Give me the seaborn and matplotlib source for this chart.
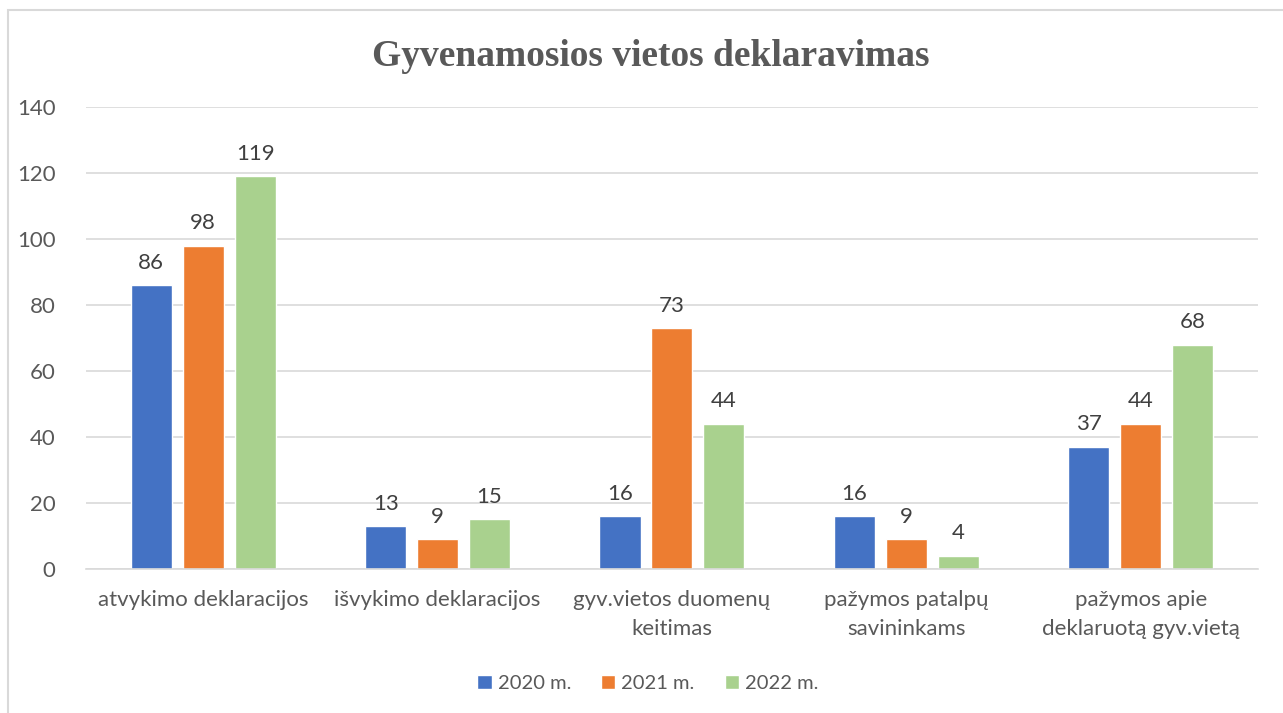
import matplotlib
matplotlib.use("Agg")
import matplotlib.pyplot as plt
import seaborn as sns
import pandas as pd
from matplotlib.patches import Rectangle

# chart data
categories = [
    "atvykimo deklaracijos",
    "išvykimo deklaracijos",
    "gyv.vietos duomenų\nkeitimas",
    "pažymos patalpų\nsavininkams",
    "pažymos apie\ndeklaruotą gyv.vietą",
]
years = ["2020 m.", "2021 m.", "2022 m."]
values_2020 = [86, 13, 16, 16, 37]
values_2021 = [98, 9, 73, 9, 44]
values_2022 = [119, 15, 44, 4, 68]
colors = ["#4472C4", "#ED7D31", "#A9D18E"]
title = "Gyvenamosios vietos deklaravimas"

df = pd.DataFrame({
    "category": categories * 3,
    "year": [y for y in years for _ in categories],
    "value": values_2020 + values_2021 + values_2022,
})

sns.set_theme(style="white")
plt.rcParams["font.family"] = ["Lato", "DejaVu Sans"]

fig = plt.figure(figsize=(12.83, 7.13), dpi=100)
ax = fig.add_axes([0.067, 0.202, 0.9135, 0.648])

sns.barplot(data=df, x="category", y="value", hue="year", palette=colors,
            width=0.665, gap=0.21, saturation=1, ax=ax, legend=True)

for container in ax.containers:
    ax.bar_label(container, padding=9, fontsize=16, color="#404040")

ax.set_ylim(0, 140)
ax.set_yticks(range(0, 141, 20))
ax.yaxis.grid(True, color="#D9D9D9", linewidth=1.2)
ax.set_axisbelow(True)
for side in ["top", "right", "left"]:
    ax.spines[side].set_visible(False)
ax.spines["bottom"].set_color("#D9D9D9")
ax.spines["bottom"].set_linewidth(1.2)
ax.tick_params(axis="both", length=0, labelsize=16, colors="#595959")
ax.tick_params(axis="x", pad=15)
ax.tick_params(axis="y", pad=22)
ax.set_xlabel("")
ax.set_ylabel("")
for lbl in ax.get_xticklabels():
    lbl.set_linespacing(1.55)

fig.suptitle(title, x=0.507, y=0.945, fontsize=27, fontweight="bold",
             color="#595959", family="Liberation Serif")

handles, labels = ax.get_legend_handles_labels()
ax.legend(handles, labels, loc="center", bbox_to_anchor=(0.505, 0.041),
          bbox_transform=fig.transFigure, ncol=3, frameon=False,
          fontsize=14.5, labelcolor="#595959", handlelength=0.7,
          handleheight=0.7, handletextpad=0.3, columnspacing=1.5)

fig.patches.append(Rectangle((0.0062, -0.05), 1.1, 1.036, transform=fig.transFigure,
                             fill=False, edgecolor="#D9D9D9", linewidth=1.5))

fig.savefig("out.png", dpi=100)
